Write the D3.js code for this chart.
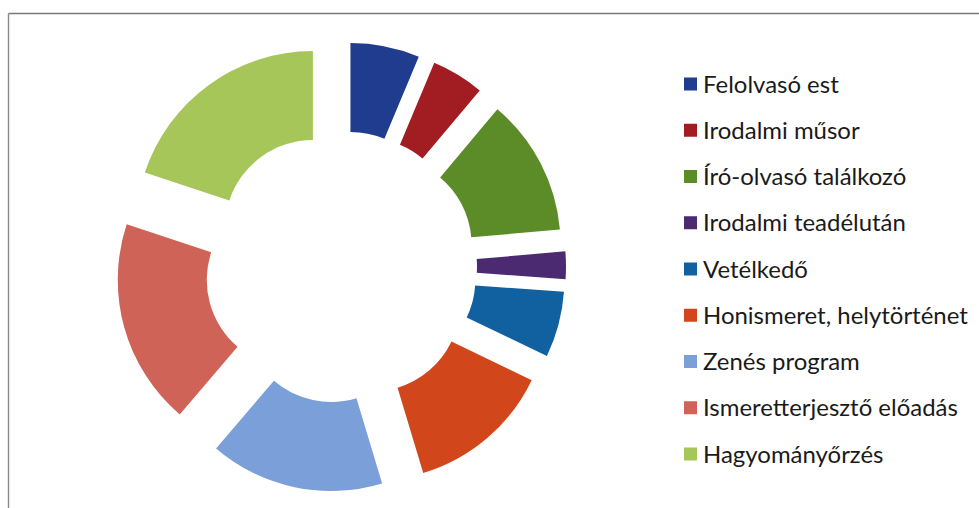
<!DOCTYPE html>
<html>
<head>
<meta charset="utf-8">
<script src="https://cdn.jsdelivr.net/npm/d3@7"></script>
<style>
  html, body { margin: 0; padding: 0; background: #ffffff; }
  svg { display: block; }
</style>
</head>
<body>
<script>
const categories = [
  "Felolvasó est",
  "Irodalmi műsor",
  "Író-olvasó találkozó",
  "Irodalmi teadélután",
  "Vetélkedő",
  "Honismeret, helytörténet",
  "Zenés program",
  "Ismeretterjesztő előadás",
  "Hagyományőrzés"
];
const values = [6.3, 4.8, 12.5, 2.5, 6.0, 13.2, 15.9, 18.8, 19.9];
const colors = ["#1f3c8e", "#a21d21", "#5c8c27", "#4b2a72", "#11609f", "#d1471b", "#7b9fd9", "#cf6357", "#a7c65a"];

const W = 979, H = 508;
const svg = d3.select("body").append("svg").attr("width", W).attr("height", H);

// frame (top and left borders)
svg.append("line").attr("x1", 8.5).attr("y1", 13.5).attr("x2", W).attr("y2", 13.5)
  .attr("stroke", "#7a7a7a").attr("stroke-width", 1.6);
svg.append("line").attr("x1", 8.5).attr("y1", 13.5).attr("x2", 8.5).attr("y2", H)
  .attr("stroke", "#8a8a8a").attr("stroke-width", 1.4);

const cx = 341, cy = 267, rOuter = 177, rInner = 88, explode = 48;
const data = categories.map((c, i) => ({ name: c, value: values[i], color: colors[i] }));
const pie = d3.pie().value(d => d.value).sort(null);
const arc = d3.arc().innerRadius(rInner).outerRadius(rOuter);

const g = svg.append("g").attr("transform", `translate(${cx},${cy})`);
g.selectAll("path").data(pie(data)).join("path")
  .attr("d", arc)
  .attr("fill", d => d.data.color)
  .attr("transform", d => {
    const m = (d.startAngle + d.endAngle) / 2;
    return `translate(${explode * Math.sin(m)},${-explode * Math.cos(m)})`;
  });

// legend
const legendX = 684, legendY0 = 84, legendStep = 46.25, sw = 13;
const lg = svg.append("g");
const items = lg.selectAll("g").data(data).join("g")
  .attr("transform", (d, i) => `translate(${legendX},${legendY0 + i * legendStep})`);
items.append("rect").attr("x", 0).attr("y", -sw / 2).attr("width", sw).attr("height", sw)
  .attr("fill", d => d.color);
const texts = items.append("text").attr("x", 19).attr("y", 0).attr("dy", "0.36em")
  .attr("font-family", "Lato, 'Noto Sans', sans-serif").attr("font-size", 20)
  .attr("fill", "#1a1a1a").text(d => d.name);
// fit font so the widest label matches the reference width
let maxW = 0;
texts.each(function () { maxW = Math.max(maxW, this.getComputedTextLength()); });
const fs = 20 * 265 / maxW;
texts.attr("font-size", fs);
</script>
</body>
</html>
